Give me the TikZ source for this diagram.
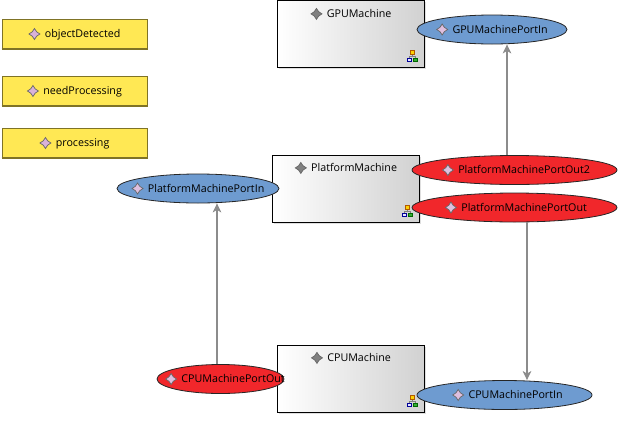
\documentclass[tikz,border=0pt]{standalone}
\usepackage{fontspec}
\setmainfont{Open Sans}
\usepackage{tikz}
\usetikzlibrary{positioning}
\usetikzlibrary{arrows.meta}
\usetikzlibrary{shapes.geometric}
\usetikzlibrary{shadows}

\definecolor{eventyellow}{HTML}{FFE854}
\definecolor{eventedge}{HTML}{7F7326}
\definecolor{portblue}{HTML}{6E9BD0}
\definecolor{portred}{HTML}{F1272B}
\definecolor{flowgray}{HTML}{8C8C8C}

\newcommand{\staricon}[1]{\tikz[x=1pt,y=1pt,baseline=-3.5pt]
    \draw[line width=.7pt, draw=black!60, fill=#1] (-5.5,0) -- (-2.2,2.2) -- (0,5.5) -- (2.2,2.2)
    -- (5.5,0) -- (2.2,-2.2) -- (0,-5.5) -- (-2.2,-2.2) -- cycle;}
\newcommand{\portname}[3][0pt]{\makebox[0pt]{\hspace*{#1}\staricon{#2}\hspace{4.5pt}#3}}

\begin{document}
\begin{tikzpicture}[
        x=1pt, y=-1pt, font=\fontsize{10.7}{12}\selectfont,
        eventnode/.style={rectangle, draw=eventedge, fill=eventyellow, line width=1pt, minimum width=145pt, minimum height=29pt, inner sep=0pt, text depth=0pt, text height=8pt},
        machinenode/.style={rectangle, draw=black, line width=1pt, left color=white, right color=black!18, minimum width=147pt, minimum height=67pt, inner sep=0pt,
            drop shadow={shadow xshift=1.5pt, shadow yshift=-1.5pt, opacity=.25}},
        portin/.style={ellipse, draw=black!85, fill=portblue, line width=.8pt, minimum height=29pt, inner sep=0pt},
        portout/.style={ellipse, draw=black!85, fill=portred, line width=.8pt, minimum height=29pt, inner sep=0pt},
        flow/.style={draw=flowgray, line width=2.8pt, -{Stealth[length=9pt, width=8.5pt, inset=2.5pt]}},
        eventedge/.style={draw=eventedge, line width=2pt},
        treeicon/.pic={
            \draw[line width=.5pt, black!50] (5,3) -- (5,6) (2,8) -- (2,6) -- (8,6) -- (8,8);
            \draw[line width=.7pt, draw=orange!70!black, fill=yellow!70!orange] (3,0) rectangle (7,3.5);
            \draw[line width=.7pt, draw=blue!60!black, fill=blue!10] (0,8) rectangle (4,11);
            \draw[line width=.7pt, draw=green!40!black, fill=green!60!black!80] (6,8) rectangle (10,11);
        },
        ]
        \useasboundingbox (0,0) rectangle (619,429);

        %Nodes
        \node[eventnode]   (objectdetected)  at (74.5,33.5)                 {\staricon{violet!30}\hspace{4.5pt}objectDetected};
        \node[eventnode]   (needprocessing)  [below=27pt of objectdetected] {\staricon{violet!30}\hspace{4.5pt}needProcessing};
        \node[eventnode]   (processing)      [below=22pt of needprocessing] {\staricon{violet!30}\hspace{4.5pt}processing};

        \node[machinenode] (gpumachine)      at (351,33.5)    {};
        \node[machinenode] (platformmachine) at (346,188.5)   {};
        \node[machinenode] (cpumachine)      at (351,378.5)   {};

        \node (gputitle)      [below=5pt of gpumachine.north]      {\staricon{black!50}\hspace{4.5pt}GPUMachine};
        \node (platformtitle) [below=4pt of platformmachine.north] {\staricon{black!50}\hspace{4.5pt}PlatformMachine};
        \node (cputitle)      [below=4pt of cpumachine.north]      {\staricon{black!50}\hspace{4.5pt}CPUMachine};

        \pic at (407,50.5)  {treeicon};
        \pic at (402,205.5) {treeicon};
        \pic at (407,395.5) {treeicon};

        \node[portin, minimum width=150pt]  (gpuin)        at (492,29.5)    {\portname{violet!25}{GPUMachinePortIn}};
        \node[portin, minimum width=162pt]  (platformin)   at (198,188.5)   {\portname{violet!25}{PlatformMachinePortIn}};
        \node[portout, minimum width=205pt] (platformout2) at (514.5,170)   {\portname[3pt]{violet!25}{PlatformMachinePortOut2}};
        \node[portout, minimum width=205pt] (platformout)  at (514.5,207.5) {\portname[3pt]{violet!25}{PlatformMachinePortOut}};
        \node[portout, minimum width=127pt] (cpuout)       at (220.5,379)   {\portname[9pt]{violet!25}{CPUMachinePortOut}};
        \node[portin, minimum width=175pt]  (cpuin)        at (504.5,395)   {\portname[6pt]{violet!25}{CPUMachinePortIn}};

        %Lines
        \foreach \eventname in {objectdetected, needprocessing, processing}
            \draw[eventedge] (\eventname.south west) -- (\eventname.south east);

        \draw[flow] ([xshift=-7.5pt]platformout2.north) -- ([xshift=15pt]gpuin.south);
        \draw[flow] ([xshift=-3.5pt]cpuout.north)       -- ([xshift=19pt]platformin.south);
        \draw[flow] ([xshift=12.5pt]platformout.south)  -- ([xshift=22.5pt]cpuin.north);
    \end{tikzpicture}
\end{document}
